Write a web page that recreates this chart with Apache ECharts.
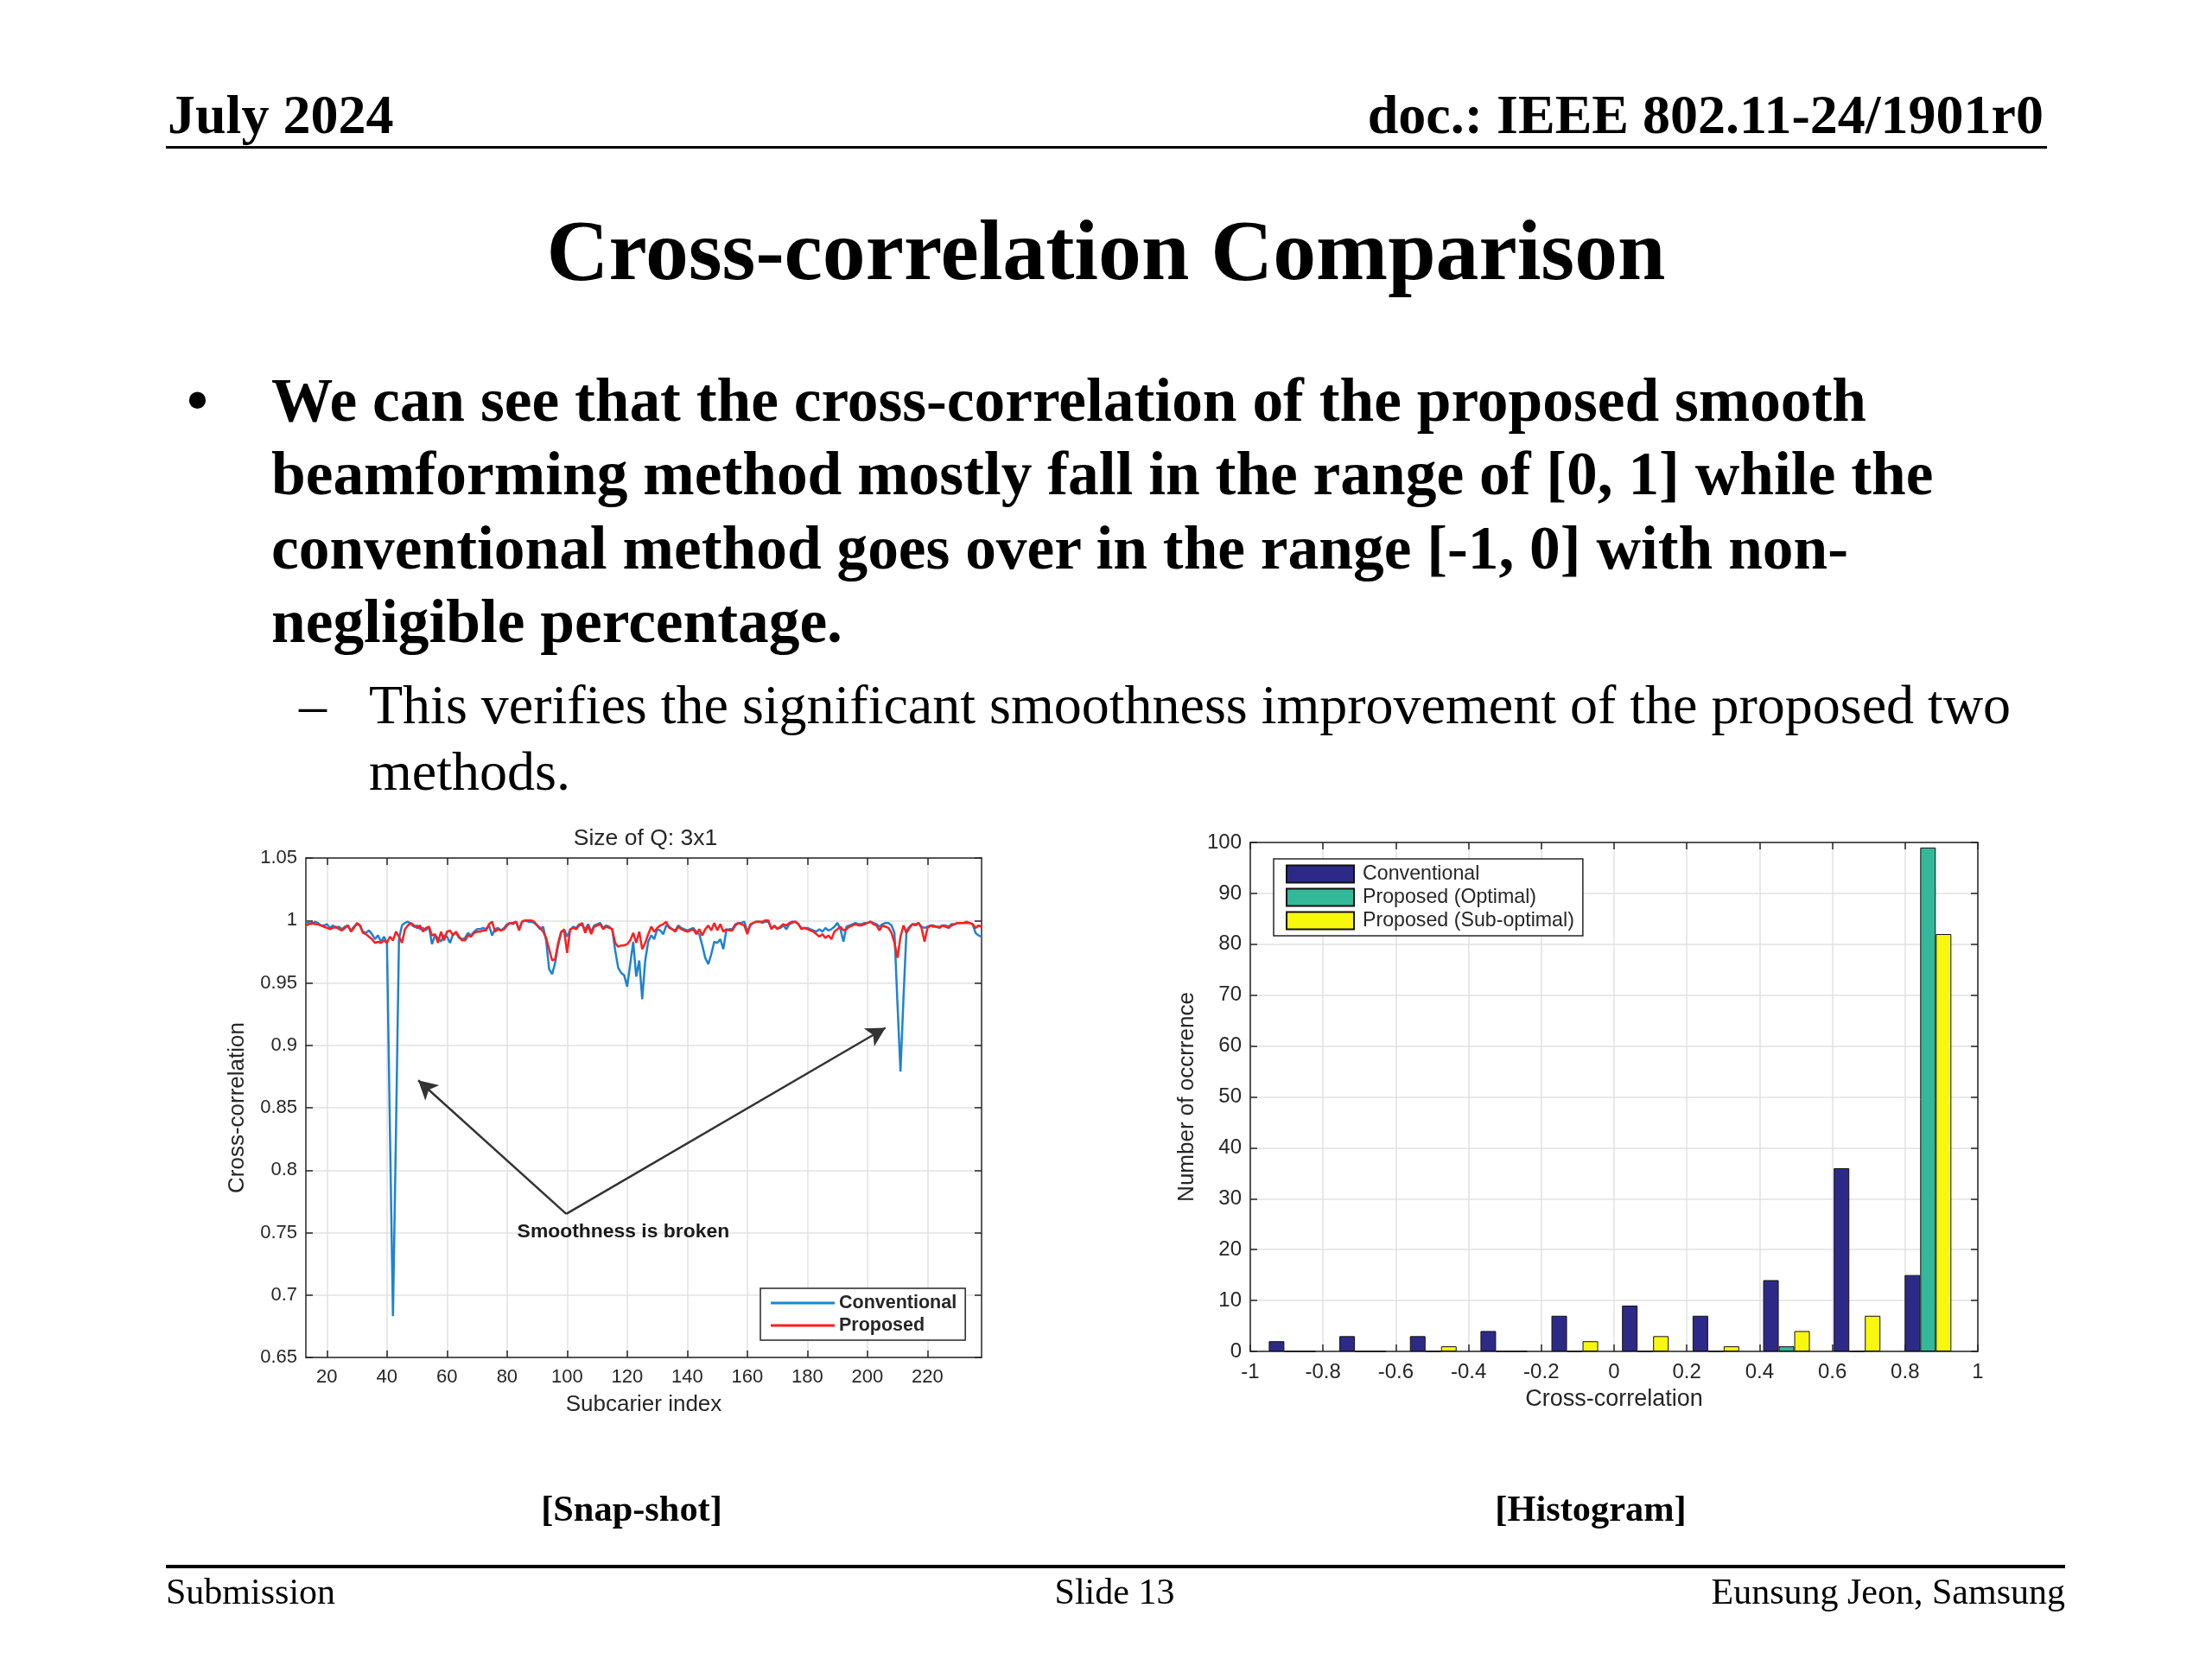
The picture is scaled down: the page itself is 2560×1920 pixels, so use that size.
<!DOCTYPE html>
<html><head><meta charset="utf-8">
<script src="https://cdn.jsdelivr.net/npm/echarts@6/dist/echarts.min.js"></script>
<style>
html,body{margin:0;padding:0;background:#fff;}
#page{position:relative;width:2560px;height:1920px;overflow:hidden;background:#fff;}
#chart{position:absolute;left:0;top:0;width:2560px;height:1920px;}
.t{position:absolute;font-family:"Liberation Serif","Times New Roman",serif;color:#000;white-space:nowrap;line-height:1;}
.b{font-weight:bold;}
.rule{position:absolute;background:#000;}
</style></head>
<body>
<div id="page">
<div id="chart"></div>
<div class="t b" style="left:194px;top:101px;font-size:64px;">July 2024</div>
<div class="t b" style="right:195px;top:101px;font-size:64px;">doc.: IEEE 802.11-24/1901r0</div>
<div class="rule" style="left:192px;top:169px;width:2177px;height:3px;"></div>
<div class="t b" style="left:1280px;top:240px;font-size:99.7px;transform:translateX(-50%);">Cross-correlation Comparison</div>
<div class="t b" style="left:216px;top:420px;font-size:71.4px;line-height:85.3px;">•</div>
<div class="t b" style="left:314px;top:420px;font-size:71.4px;line-height:85.3px;">We can see that the cross-correlation of the proposed smooth<br>beamforming method mostly fall in the range of [0, 1] while the<br>conventional method goes over in the range [-1, 0] with non-<br>negligible percentage.</div>
<div class="t" style="left:346px;top:777px;font-size:64px;line-height:77px;">–</div>
<div class="t" style="left:427px;top:777px;font-size:64px;line-height:77px;">This verifies the significant smoothness improvement of the proposed two<br>methods.</div>
<div class="t b" style="left:731px;top:1725px;font-size:42.4px;transform:translateX(-50%);">[Snap-shot]</div>
<div class="t b" style="left:1841px;top:1725px;font-size:42.4px;transform:translateX(-50%);">[Histogram]</div>
<div class="rule" style="left:192px;top:1811px;width:2198px;height:4px;"></div>
<div class="t" style="left:192px;top:1821px;font-size:42px;">Submission</div>
<div class="t" style="left:1290px;top:1821px;font-size:42px;transform:translateX(-50%);">Slide 13</div>
<div class="t" style="right:170px;top:1821px;font-size:42px;">Eunsung Jeon, Samsung</div>
</div>
<script>
// ---- Snap-shot data (subcarrier index starts at 13) ----
const subcarrierStart = 13;
const conventional = [
0.999,0.998,0.997,0.999,0.998,0.996,0.996,0.997,0.994,0.996,
0.994,0.995,0.993,0.995,0.996,0.992,0.995,0.997,0.996,0.991,
0.990,0.992,0.989,0.985,0.988,0.983,0.987,0.982,0.830,0.683,
0.830,0.985,0.996,0.998,0.999,0.997,0.995,0.996,0.993,0.994,
0.992,0.995,0.981,0.988,0.986,0.983,0.988,0.987,0.982,0.989,
0.990,0.986,0.985,0.986,0.990,0.988,0.991,0.993,0.993,0.994,
0.993,0.996,0.988,0.993,0.994,0.992,0.994,0.997,0.998,0.997,
0.999,0.993,0.999,1.000,0.999,0.999,0.998,0.996,0.993,0.995,
0.984,0.961,0.957,0.966,0.980,0.990,0.993,0.987,0.992,0.995,
0.994,0.997,0.996,0.993,0.997,0.991,0.996,0.997,0.998,0.994,
0.996,0.995,0.993,0.976,0.962,0.958,0.956,0.947,0.965,0.983,
0.955,0.968,0.937,0.968,0.983,0.988,0.985,0.993,0.992,0.989,
0.996,0.995,0.993,0.992,0.996,0.994,0.993,0.992,0.993,0.994,
0.991,0.989,0.980,0.970,0.965,0.973,0.983,0.982,0.985,0.977,
0.992,0.993,0.993,0.997,0.998,0.998,0.999,0.991,0.996,0.998,
0.999,0.999,0.998,0.999,0.999,0.994,0.995,0.994,0.994,0.996,
0.993,0.997,0.998,0.999,0.997,0.994,0.994,0.994,0.993,0.992,
0.991,0.993,0.991,0.994,0.992,0.993,0.995,0.998,0.993,0.983,
0.995,0.996,0.997,0.998,0.997,0.997,0.998,0.998,0.999,0.998,
0.997,0.995,0.997,0.998,0.998,0.996,0.990,0.933,0.879,0.938,
0.992,0.995,0.997,0.997,0.998,0.995,0.994,0.995,0.996,0.996,
0.995,0.995,0.996,0.996,0.995,0.997,0.997,0.998,0.998,0.998,
0.999,0.998,0.997,0.990,0.988,0.987];
const proposed = [
0.996,0.997,0.998,0.997,0.997,0.996,0.995,0.994,0.993,0.994,
0.995,0.993,0.992,0.994,0.996,0.991,0.994,0.998,0.996,0.990,
0.989,0.987,0.985,0.982,0.983,0.982,0.984,0.982,0.987,0.984,
0.991,0.987,0.982,0.993,0.996,0.998,0.996,0.994,0.996,0.991,
0.994,0.995,0.988,0.989,0.982,0.991,0.984,0.991,0.992,0.988,
0.991,0.987,0.984,0.984,0.988,0.987,0.990,0.991,0.991,0.992,
0.992,0.997,0.999,0.991,0.993,0.992,0.993,0.996,0.998,0.998,
0.999,0.992,0.999,1.000,1.000,1.000,0.999,0.996,0.994,0.991,
0.986,0.977,0.968,0.969,0.982,0.991,0.992,0.974,0.993,0.994,
0.993,0.996,0.998,0.990,0.996,0.989,0.995,0.996,0.997,0.993,
0.995,0.994,0.993,0.982,0.979,0.980,0.980,0.981,0.984,0.990,
0.982,0.991,0.977,0.982,0.989,0.995,0.991,0.994,0.996,0.997,
0.999,0.994,0.993,0.991,0.995,0.993,0.992,0.991,0.992,0.993,
0.989,0.993,0.988,0.993,0.996,0.992,0.998,0.992,0.997,0.991,
0.993,0.992,0.992,0.996,0.998,0.997,0.996,0.989,0.997,0.998,
0.999,0.999,0.999,1.000,1.000,0.993,0.996,0.993,0.995,0.997,
0.996,0.998,0.999,0.999,0.997,0.993,0.994,0.993,0.992,0.991,
0.989,0.987,0.989,0.986,0.988,0.985,0.991,0.993,0.995,0.992,
0.993,0.995,0.996,0.997,0.996,0.996,0.997,0.998,0.999,0.997,
0.996,0.992,0.996,0.995,0.994,0.990,0.982,0.970,0.987,0.996,
0.990,0.994,0.997,0.996,0.998,0.994,0.983,0.994,0.996,0.995,
0.995,0.994,0.996,0.995,0.994,0.996,0.997,0.998,0.998,0.998,
0.998,0.998,0.997,0.994,0.996,0.995];
const snapXTicks = [20,40,60,80,100,120,140,160,180,200,220];
const arrowTail = [99.7, 0.765];
const arrowHeads = [[50.4, 0.872], [206, 0.914]];
const annotationPos = [118.7, 0.7506];
const annotationText = 'Smoothness is broken';

// ---- Histogram data ----
const binCenters = [-0.885,-0.691,-0.497,-0.303,-0.108,0.086,0.280,0.474,0.668,0.863];
const histConventional = [2,3,3,4,7,9,7,14,36,15];
const histOptimal      = [0,0,0,0,0,0,0,1,0,99];
const histSubOptimal   = [0,0,1,0,2,3,1,4,7,82];

const FONT = 'Liberation Sans';
const AX = '#262626';
const GRIDC = '#e2e2e2';

const chart = echarts.init(document.getElementById('chart'), null, {renderer:'canvas', width:2560, height:1920});

function lineData(arr){ return arr.map((v,i)=>[subcarrierStart+i, v]); }
function barData(arr){ return binCenters.map((c,i)=>[c, arr[i]]); }
const histNames = {hConv:'Conventional', hOpt:'Proposed (Optimal)', hSub:'Proposed (Sub-optimal)'};

function mirror(gridIndex, pos, min, max, interval, custom){
  const a = {type:'value', gridIndex, position:pos, min, max,
    axisLine:{show:true, onZero:false, lineStyle:{color:AX, width:1.5}},
    axisTick:{show:true, inside:true, length:8, lineStyle:{color:AX, width:1.5}},
    axisLabel:{show:false}, splitLine:{show:false}};
  if (interval) a.interval = interval;
  if (custom) { a.axisTick.customValues = custom; a.axisLabel.customValues = custom; }
  return a;
}

const option = {
  animation:false,
  backgroundColor:'transparent',
  textStyle:{fontFamily:FONT},
  title:[{text:'Size of Q: 3x1', left:742, top:952, textAlign:'center',
    textStyle:{fontFamily:FONT, fontSize:26.5, fontWeight:'normal', color:AX}}],
  grid:[
    {left:354, top:993, width:782, height:578},
    {left:1447, top:975, width:842, height:589}
  ],
  xAxis:[
    {type:'value', gridIndex:0, position:'bottom', min:13, max:238,
      name:'Subcarier index', nameLocation:'middle', nameGap:42,
      nameTextStyle:{fontFamily:FONT, fontSize:26, color:AX},
      axisLine:{show:true, onZero:false, lineStyle:{color:AX, width:1.5}},
      axisTick:{show:true, inside:true, length:8, customValues:snapXTicks, lineStyle:{color:AX, width:1.5}},
      axisLabel:{customValues:snapXTicks, fontFamily:FONT, fontSize:22, color:AX, margin:12},
      splitLine:{show:true, lineStyle:{color:GRIDC, width:1.5}}},
    mirror(0,'top',13,238,null,snapXTicks),
    {type:'value', gridIndex:1, position:'bottom', min:-1, max:1, interval:0.2,
      name:'Cross-correlation', nameLocation:'middle', nameGap:42,
      nameTextStyle:{fontFamily:FONT, fontSize:27, color:AX},
      axisLine:{show:true, onZero:false, lineStyle:{color:AX, width:1.5}},
      axisTick:{show:true, inside:true, length:8, lineStyle:{color:AX, width:1.5}},
      axisLabel:{fontFamily:FONT, fontSize:24, color:AX, margin:12, formatter:v=>String(+v.toFixed(1))},
      splitLine:{show:true, lineStyle:{color:GRIDC, width:1.5}}},
    mirror(1,'top',-1,1,0.2)
  ],
  yAxis:[
    {type:'value', gridIndex:0, position:'left', min:0.65, max:1.05, interval:0.05,
      name:'Cross-correlation', nameLocation:'middle', nameGap:66,
      nameTextStyle:{fontFamily:FONT, fontSize:26, color:AX},
      axisLine:{show:true, onZero:false, lineStyle:{color:AX, width:1.5}},
      axisTick:{show:true, inside:true, length:8, lineStyle:{color:AX, width:1.5}},
      axisLabel:{fontFamily:FONT, fontSize:22, color:AX, margin:10, formatter:v=>String(+v.toFixed(2))},
      splitLine:{show:true, lineStyle:{color:GRIDC, width:1.5}}},
    mirror(0,'right',0.65,1.05,0.05),
    {type:'value', gridIndex:1, position:'left', min:0, max:100, interval:10,
      name:'Number of occrrence', nameLocation:'middle', nameGap:60,
      nameTextStyle:{fontFamily:FONT, fontSize:26, color:AX},
      axisLine:{show:true, onZero:false, lineStyle:{color:AX, width:1.5}},
      axisTick:{show:true, inside:true, length:8, lineStyle:{color:AX, width:1.5}},
      axisLabel:{fontFamily:FONT, fontSize:24, color:AX, margin:10},
      splitLine:{show:true, lineStyle:{color:GRIDC, width:1.5}}},
    mirror(1,'right',0,100,10)
  ],
  legend:[
    {data:['Conventional','Proposed'], orient:'vertical', left:880, top:1491,
      icon:'rect', itemWidth:74, itemHeight:3, itemGap:4,
      backgroundColor:'#fff', borderColor:AX, borderWidth:1.5, padding:[6,10,6,12],
      textStyle:{fontFamily:FONT, fontSize:21.5, fontWeight:'bold', color:AX}},
    {data:['hConv','hOpt','hSub'], orient:'vertical', left:1474, top:994,
      icon:'rect', itemWidth:78, itemHeight:20, itemGap:4,
      backgroundColor:'#fff', borderColor:AX, borderWidth:1.5, padding:[6,10,6,14],
      formatter:n=>histNames[n],
      textStyle:{fontFamily:FONT, fontSize:23.2, color:AX, padding:[0,0,0,5]}}
  ],
  series:[
    {name:'Conventional', type:'line', xAxisIndex:0, yAxisIndex:0, data:lineData(conventional),
      showSymbol:false, symbol:'none', lineStyle:{color:'#1f82d2', width:2.5}, itemStyle:{color:'#1f82d2'}, z:3},
    {name:'Proposed', type:'line', xAxisIndex:0, yAxisIndex:0, data:lineData(proposed),
      showSymbol:false, symbol:'none', lineStyle:{color:'#ff1f1f', width:2.5}, itemStyle:{color:'#ff1f1f'}, z:4,
      markLine:{silent:true, symbol:['none','arrow'], symbolSize:[18,22],
        lineStyle:{color:'#333', width:2.5, type:'solid'}, label:{show:false},
        data:arrowHeads.map(h=>[{coord:arrowTail},{coord:h}])},
      markPoint:{silent:true, symbol:'circle', symbolSize:0,
        data:[{coord:annotationPos, label:{show:true, position:'inside', formatter:annotationText,
          fontFamily:FONT, fontSize:22.9, fontWeight:'bold', color:'#1a1a1a'}}]}},
    {name:'hConv', type:'bar', xAxisIndex:2, yAxisIndex:2, data:barData(histConventional),
      barWidth:18, barGap:'0%', itemStyle:{color:'#2d2a87', borderColor:'#111', borderWidth:1}},
    {name:'hOpt', type:'bar', xAxisIndex:2, yAxisIndex:2, data:barData(histOptimal),
      barWidth:18, barGap:'0%', itemStyle:{color:'#33b899', borderColor:'#111', borderWidth:1}},
    {name:'hSub', type:'bar', xAxisIndex:2, yAxisIndex:2, data:barData(histSubOptimal),
      barWidth:18, barGap:'0%', itemStyle:{color:'#f8f80f', borderColor:'#111', borderWidth:1}}
  ]
};
chart.setOption(option);
</script>
</body></html>
